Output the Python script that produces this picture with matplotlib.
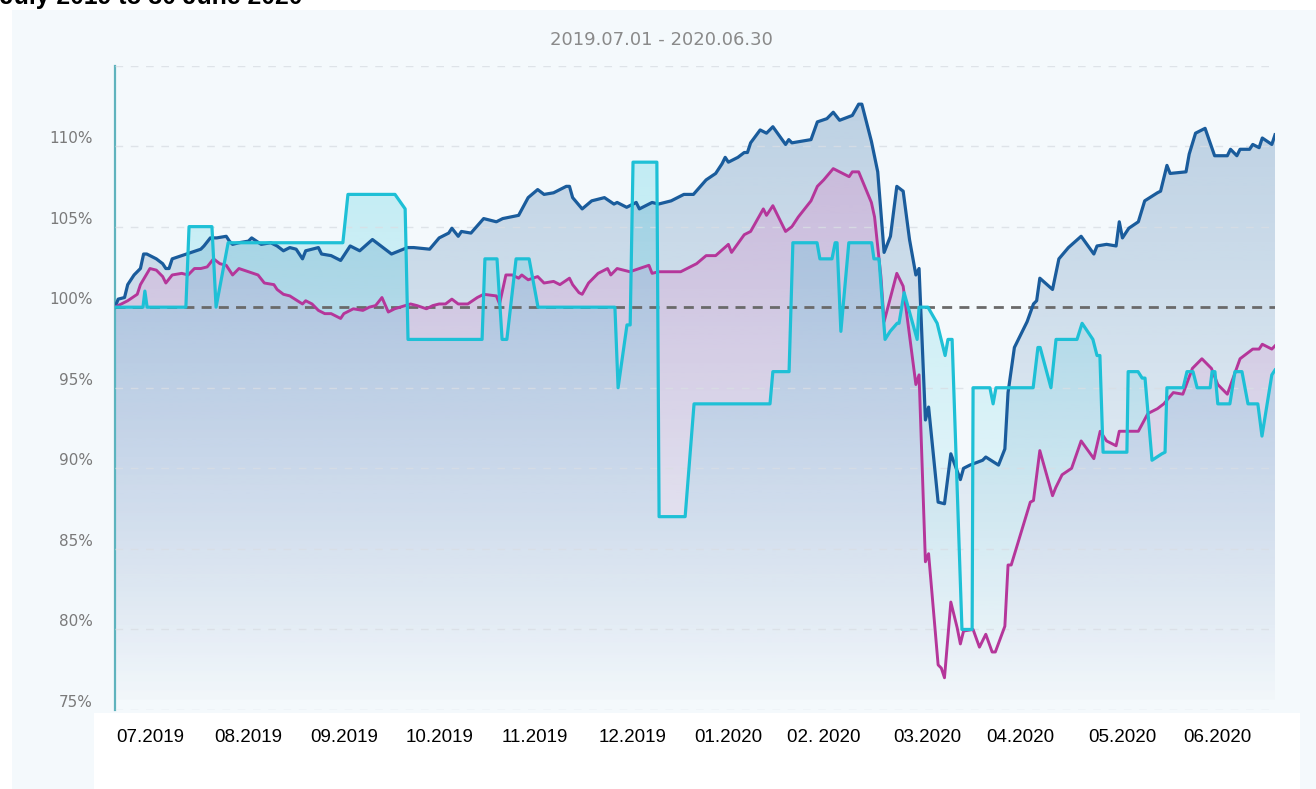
import numpy as np
import matplotlib
matplotlib.use("Agg")
import matplotlib.pyplot as plt
from matplotlib.patches import Rectangle, Polygon
from matplotlib.colors import to_rgb
from matplotlib.transforms import ScaledTranslation

# days since 2019-07-01 and value in % of start
blue_days = [0, 1, 3, 4, 6, 8, 9, 10, 13, 15, 16, 17, 18, 21, 24, 27, 28, 30, 32, 35, 36, 37, 39, 42, 43,
             46, 49, 51, 53, 55, 57, 59, 60, 64, 65, 68, 71, 74, 77, 81, 87, 92, 94, 99, 102, 105, 106,
             108, 109, 112, 116, 120, 122, 127, 130, 133, 135, 138, 142, 143, 144, 147, 150, 154, 157,
             158, 161, 164, 165, 169, 171, 175, 179, 182, 186, 189, 191, 192, 193, 196, 198, 199, 200,
             203, 205, 207, 211, 212, 213, 216, 219, 221, 224, 226, 228, 232, 234, 235, 238, 240, 242,
             244, 246, 248, 250, 252, 253, 254, 255, 256, 259, 261, 263, 266, 267, 269, 273, 274, 278,
             280, 281, 283, 287, 289, 290, 291, 295, 297, 300, 304, 308, 309, 312, 315, 316, 317, 319,
             322, 324, 328, 329, 331, 332, 337, 338, 340, 343, 346, 350, 351, 353, 354, 357, 358, 360,
             361, 364, 365]
blue_vals = [100.0, 100.5, 100.6, 101.4, 102.0, 102.4, 103.3, 103.3, 103.0, 102.7, 102.4, 102.4, 103.0,
             103.2, 103.4, 103.6, 103.8, 104.3, 104.3, 104.4, 104.1, 103.9, 104.0, 104.1, 104.3, 103.9,
             104.0, 103.8, 103.5, 103.7, 103.6, 103.0, 103.5, 103.7, 103.3, 103.2, 102.9, 103.8, 103.5,
             104.2, 103.3, 103.7, 103.7, 103.6, 104.3, 104.6, 104.9, 104.4, 104.7, 104.6, 105.5, 105.3,
             105.5, 105.7, 106.8, 107.3, 107.0, 107.1, 107.5, 107.5, 106.8, 106.1, 106.6, 106.8, 106.4,
             106.5, 106.2, 106.5, 106.1, 106.5, 106.4, 106.6, 107.0, 107.0, 107.9, 108.3, 108.9, 109.3,
             109.0, 109.3, 109.6, 109.6, 110.2, 111.0, 110.8, 111.2, 110.1, 110.4, 110.2, 110.3, 110.4,
             111.5, 111.7, 112.1, 111.6, 111.9, 112.6, 112.6, 110.3, 108.4, 103.4, 104.4, 107.5, 107.2,
             104.2, 102.0, 102.4, 97.7, 93.0, 93.8, 87.9, 87.8, 90.9, 89.3, 90.0, 90.2, 90.5, 90.7, 90.2,
             91.2, 94.7, 97.5, 99.1, 100.2, 100.4, 101.8, 101.1, 103.0, 103.7, 104.4, 103.3, 103.8, 103.9,
             103.8, 105.3, 104.3, 104.9, 105.3, 106.6, 107.1, 107.2, 108.8, 108.3, 108.4, 109.5, 110.8,
             111.1, 109.4, 109.4, 109.8, 109.4, 109.8, 109.8, 110.1, 109.9, 110.5, 110.1, 110.7]

magenta_days = [0, 2, 4, 7, 8, 11, 13, 15, 16, 18, 21, 23, 25, 27, 29, 31, 33, 35, 37, 39, 42, 45, 47, 50,
                51, 53, 55, 59, 60, 62, 64, 66, 68, 71, 72, 75, 78, 80, 82, 84, 86, 88, 93, 95, 98, 100,
                102, 104, 106, 108, 111, 114, 116, 120, 121, 123, 125, 127, 128, 130, 133, 135, 138, 140,
                143, 144, 146, 147, 149, 152, 155, 156, 158, 162, 165, 168, 169, 171, 178, 180, 183, 186,
                189, 193, 194, 198, 200, 204, 205, 207, 211, 213, 215, 219, 221, 223, 226, 231, 232, 234,
                238, 239, 241, 242, 246, 248, 252, 253, 255, 256, 259, 260, 261, 263, 265, 266, 267, 270,
                272, 274, 276, 277, 280, 281, 282, 284, 288, 289, 291, 295, 296, 298, 301, 304, 308, 310,
                312, 315, 316, 322, 325, 328, 330, 333, 336, 339, 342, 345, 347, 350, 354, 358, 360, 361,
                364, 365]
magenta_vals = [100.0, 100.2, 100.4, 100.8, 101.4, 102.4, 102.3, 101.9, 101.5, 102.0, 102.1, 102.0, 102.4,
                102.4, 102.5, 103.0, 102.7, 102.6, 102.0, 102.4, 102.2, 102.0, 101.5, 101.4, 101.1, 100.8,
                100.7, 100.2, 100.4, 100.2, 99.8, 99.6, 99.6, 99.3, 99.6, 99.9, 99.8, 100.0, 100.1, 100.6,
                99.7, 99.9, 100.2, 100.1, 99.9, 100.1, 100.2, 100.2, 100.5, 100.2, 100.2, 100.6, 100.8,
                100.7, 100.2, 102.0, 102.0, 101.8, 102.0, 101.7, 101.9, 101.5, 101.6, 101.4, 101.8, 101.4,
                100.9, 100.8, 101.5, 102.1, 102.4, 102.0, 102.4, 102.2, 102.4, 102.6, 102.1, 102.2, 102.2,
                102.4, 102.7, 103.2, 103.2, 103.9, 103.4, 104.5, 104.7, 106.1, 105.7, 106.3, 104.7, 105.0,
                105.6, 106.6, 107.5, 107.9, 108.6, 108.1, 108.4, 108.4, 106.5, 105.6, 101.9, 99.1, 102.1,
                101.3, 95.2, 95.8, 84.2, 84.7, 77.8, 77.6, 77.0, 81.7, 80.1, 79.1, 79.9, 80.0, 78.9, 79.7,
                78.6, 78.6, 80.2, 84.0, 84.0, 85.3, 87.9, 88.0, 91.1, 88.3, 88.8, 89.6, 90.0, 91.7, 90.6,
                92.3, 91.7, 91.4, 92.3, 92.3, 93.4, 93.7, 94.0, 94.7, 94.6, 96.2, 96.8, 96.2, 95.2, 94.6,
                96.8, 97.4, 97.4, 97.7, 97.4, 97.6]

cyan_days = [0, 8.8, 9.4, 10.1, 22.3, 23.3, 30.5, 31.8, 35.6, 71.7, 73.3, 88.1, 91.3, 92.2, 115.5, 116.4,
             120.2, 121.8, 123.3, 126.2, 130.3, 133.1, 157.3, 158.3, 161.1, 162.1, 163.0, 170.5, 171.2,
             179.4, 182.2, 206.1, 207.0, 212.1, 213.3, 220.9, 221.8, 225.6, 226.6, 227.2, 228.4, 230.9,
             238.1, 238.8, 240.4, 242.3, 243.9, 246.1, 246.7, 248.3, 252.4, 253.0, 255.8, 258.7, 261.2,
             262.1, 263.4, 266.5, 269.7, 270.0, 275.3, 276.3, 277.2, 288.9, 290.4, 291.1, 294.5, 296.1,
             302.7, 304.3, 307.7, 309.0, 309.9, 310.9, 318.4, 318.8, 321.9, 323.2, 324.1, 326.3, 329.4,
             330.4, 331.0, 336.1, 337.3, 339.2, 340.5, 344.6, 345.2, 346.1, 347.0, 350.8, 352.4, 354.6,
             356.5, 359.6, 360.9, 364.0, 365.0]
cyan_vals = [100, 100, 101.0, 100, 100, 105.0, 105.0, 100, 104.0, 104.0, 107.0, 107.0, 106.1, 98.0, 98.0,
             103.0, 103.0, 98.0, 98.0, 103.0, 103.0, 100, 100, 95.0, 98.9, 98.9, 109.0, 109.0, 87.0, 87.0,
             94.0, 94.0, 96.0, 96.0, 104.0, 104.0, 103.0, 103.0, 104.0, 104.0, 98.5, 104.0, 104.0, 103.0,
             103.0, 98.0, 98.5, 99.0, 99.0, 100.9, 98.0, 100.0, 100.0, 99.0, 97.0, 98.0, 98.0, 80.0, 80.0,
             95.0, 95.0, 94.0, 95.0, 95.0, 97.5, 97.5, 95.0, 98.0, 98.0, 99.0, 98.0, 97.0, 97.0, 91.0, 91.0,
             96.0, 96.0, 95.6, 95.6, 90.5, 90.9, 91.0, 95.0, 95.0, 96.0, 96.0, 95.0, 95.0, 96.0, 96.0, 94.0,
             94.0, 96.0, 96.0, 94.0, 94.0, 92.0, 95.8, 96.1]

month_pos = [11, 42, 72, 102, 132, 163, 193, 223, 255.5, 285, 317, 347]
month_labels = ["07.2019", "08.2019", "09.2019", "10.2019", "11.2019", "12.2019",
                "01.2020", "02. 2020", "03.2020", "04.2020", "05.2020", "06.2020"]
y_ticks = [75, 80, 85, 90, 95, 100, 105, 110]

BG = "#f4f9fc"
YMIN, YMAX = 75, 115


def gradient_fill(ax, x, y, color, alpha_top, z):
    r, g, b = to_rgb(color)
    grad = np.zeros((256, 1, 4))
    grad[:, :, 0] = r
    grad[:, :, 1] = g
    grad[:, :, 2] = b
    grad[:, 0, 3] = np.linspace(alpha_top, 0.0, 256)
    im = ax.imshow(grad, aspect="auto", origin="upper", interpolation="bilinear",
                   extent=[0, 365, YMIN, YMAX], zorder=z)
    verts = [(x[0], YMIN)] + list(zip(x, y)) + [(x[-1], YMIN)]
    poly = Polygon(verts, closed=True, facecolor="none", edgecolor="none")
    ax.add_patch(poly)
    im.set_clip_path(poly)


fig = plt.figure(figsize=(13.16, 7.89), dpi=100, facecolor="white")

# light panel and white label strip
fig.patches.append(Rectangle((12 / 1316, 0), 1 - 12 / 1316, 1 - 10 / 789, transform=fig.transFigure,
                             facecolor=BG, edgecolor="none", zorder=-2))
fig.patches.append(Rectangle((94 / 1316, 0), (1300 - 94) / 1316, (789 - 713) / 789,
                             transform=fig.transFigure, facecolor="white", edgecolor="none", zorder=-1))

ax = fig.add_axes([115 / 1316, (789 - 710) / 789, 1160 / 1316, (710 - 65.5) / 789])
ax.set_facecolor(BG)

gradient_fill(ax, blue_days, blue_vals, "#1a5a9a", 0.27, 1)
gradient_fill(ax, magenta_days, magenta_vals, "#e070c0", 0.30, 2)
gradient_fill(ax, cyan_days, cyan_vals, "#22c4da", 0.28, 3)

for v in [75, 80, 85, 90, 95, 105, 110, 115]:
    ax.axhline(v, color="#d9dee4", lw=1, dashes=(5.5, 5.5), alpha=0.8, zorder=3.5)
ax.axhline(100, color="#6a6a6a", lw=2, dashes=(3.6, 2.6), zorder=4)

ax.plot(blue_days, blue_vals, color="#1a5c9c", lw=2.3, zorder=5, solid_joinstyle="round")
ax.plot(magenta_days, magenta_vals, color="#b5369a", lw=2.1, zorder=6, solid_joinstyle="round")
ax.plot(cyan_days, cyan_vals, color="#1ec0d6", lw=2.3, zorder=7, solid_joinstyle="round")

ax.set_xlim(0, 365)
ax.set_ylim(YMIN, YMAX)

for s in ["top", "right", "bottom"]:
    ax.spines[s].set_visible(False)
ax.spines["left"].set_color("#5fb3bd")
ax.spines["left"].set_linewidth(1.6)

ax.set_yticks(y_ticks)
ax.set_yticklabels([f"{v}%" for v in y_ticks], color="#7a7a7a", fontsize=11)
ax.tick_params(axis="y", length=0, pad=16)
for lbl in ax.get_yticklabels():
    lbl.set_transform(lbl.get_transform() + ScaledTranslation(0, 9 / 100, fig.dpi_scale_trans))

ax.set_xticks(month_pos)
ax.set_xticklabels(month_labels, color="black", fontsize=13.5, family="Liberation Sans")
ax.tick_params(axis="x", length=0, pad=14)

fig.text(661 / 1316, 1 - 40 / 789, "2019.07.01 - 2020.06.30", ha="center", va="center",
         color="#8a8a8a", fontsize=13)
# header line sits mostly above the canvas, as in the source image
fig.text(0.0, 1 - 4 / 789, "July 2019 to 30 June 2020", ha="left", va="baseline",
         fontsize=17.8, fontweight="bold", family="Liberation Sans", color="black")

fig.savefig("out.png", dpi=100, facecolor="white")
